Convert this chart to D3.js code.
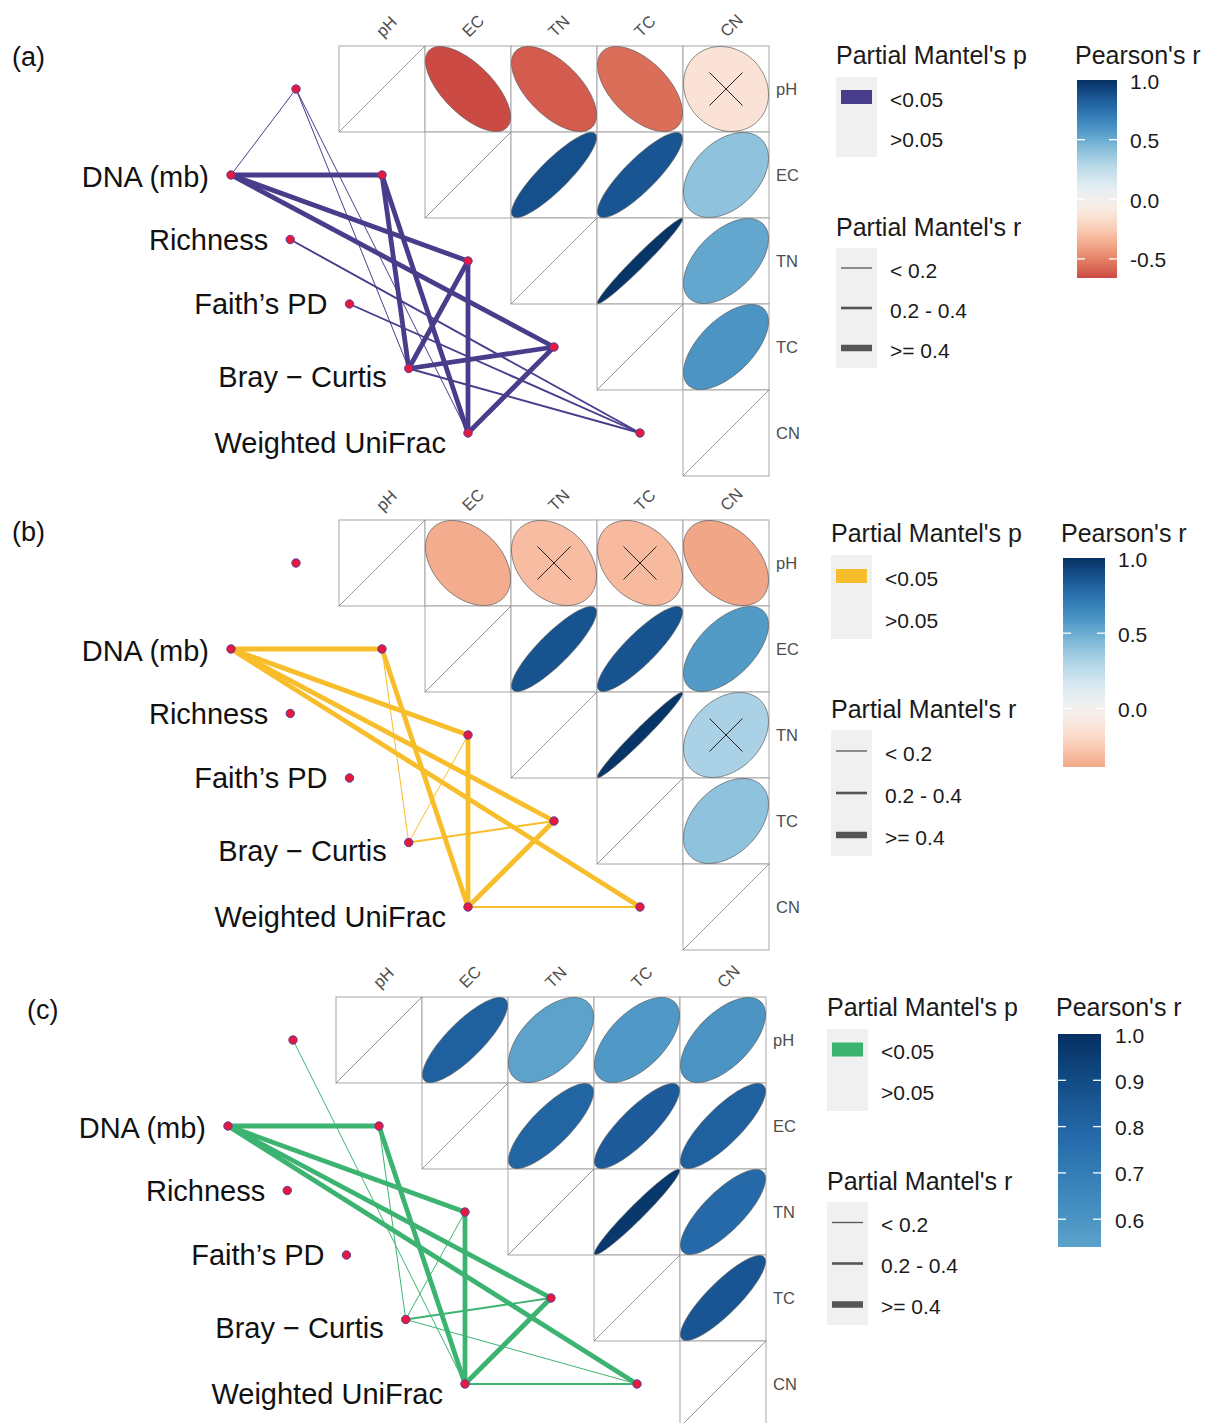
<!DOCTYPE html>
<html>
<head>
<meta charset="utf-8">
<script src="https://cdn.jsdelivr.net/npm/d3@7"></script>
<style>
  body { margin: 0; background: #fff; }
  svg { display: block; font-family: "Liberation Sans", Arial, sans-serif; }
</style>
</head>
<body>
<div class="container"></div>
<script>
// environment variables (grid) and community metrics (left nodes)
var envs = ["pH", "EC", "TN", "TC", "CN"];
var specs = ["DNA (mb)", "Richness", "Faith\u2019s PD", "Bray\u2212Curtis", "Weighted UniFrac"];
var specText = ["DNA (mb)", "Richness", "Faith\u2019s PD", "Bray \u2212 Curtis", "Weighted UniFrac"];
var panelTags = ["(a)", "(b)", "(c)"];

// Pearson's r, upper triangle row by row:
// pH-EC, pH-TN, pH-TC, pH-CN, EC-TN, EC-TC, EC-CN, TN-TC, TN-CN, TC-CN
var pearsonA = [-0.66, -0.61, -0.56, -0.13, 0.88, 0.86, 0.40, 0.98, 0.52, 0.60];
var pearsonB = [-0.37, -0.31, -0.32, -0.39, 0.87, 0.87, 0.57, 0.98, 0.32, 0.40];
var pearsonC = [0.82, 0.54, 0.58, 0.60, 0.80, 0.84, 0.82, 0.97, 0.78, 0.86];
// 1 = not significant (crossed out)
var nsA = [0, 0, 0, 1, 0, 0, 0, 0, 0, 0];
var nsB = [0, 1, 1, 0, 0, 0, 0, 0, 1, 0];
var nsC = [0, 0, 0, 0, 0, 0, 0, 0, 0, 0];

// partial Mantel links with p < 0.05: [metric, env, Mantel's r]
var mantelA = [
  ["DNA (mb)", "pH", 0.12], ["DNA (mb)", "EC", 0.52], ["DNA (mb)", "TN", 0.50], ["DNA (mb)", "TC", 0.48],
  ["Richness", "CN", 0.30], ["Faith\u2019s PD", "CN", 0.30],
  ["Bray\u2212Curtis", "pH", 0.10], ["Bray\u2212Curtis", "EC", 0.48], ["Bray\u2212Curtis", "TN", 0.44],
  ["Bray\u2212Curtis", "TC", 0.50], ["Bray\u2212Curtis", "CN", 0.26],
  ["Weighted UniFrac", "pH", 0.10], ["Weighted UniFrac", "EC", 0.47], ["Weighted UniFrac", "TN", 0.50],
  ["Weighted UniFrac", "TC", 0.48]
];
var mantelB = [
  ["DNA (mb)", "EC", 0.52], ["DNA (mb)", "TN", 0.50], ["DNA (mb)", "TC", 0.48], ["DNA (mb)", "CN", 0.45],
  ["Bray\u2212Curtis", "EC", 0.12], ["Bray\u2212Curtis", "TN", 0.12], ["Bray\u2212Curtis", "TC", 0.22],
  ["Weighted UniFrac", "EC", 0.48], ["Weighted UniFrac", "TN", 0.50], ["Weighted UniFrac", "TC", 0.46],
  ["Weighted UniFrac", "CN", 0.30]
];
var mantelC = [
  ["Weighted UniFrac", "pH", 0.10],
  ["DNA (mb)", "EC", 0.52], ["DNA (mb)", "TN", 0.50], ["DNA (mb)", "TC", 0.48], ["DNA (mb)", "CN", 0.46],
  ["Bray\u2212Curtis", "EC", 0.12], ["Bray\u2212Curtis", "TN", 0.12], ["Bray\u2212Curtis", "TC", 0.26],
  ["Bray\u2212Curtis", "CN", 0.10],
  ["Weighted UniFrac", "EC", 0.48], ["Weighted UniFrac", "TN", 0.50], ["Weighted UniFrac", "TC", 0.46],
  ["Weighted UniFrac", "CN", 0.30]
];

// colour bar ticks
var ticksA = [-0.5, 0, 0.5, 1.0];
var ticksB = [0, 0.5, 1.0];
var ticksC = [0.6, 0.7, 0.8, 0.9, 1.0];

// legend text
var pLabels = ["<0.05", ">0.05"];
var rLabels = ["< 0.2", "0.2 - 0.4", ">= 0.4"];
var rBreaks = [0.2, 0.4];
var linkColors = ["#483d8b", "#f8bd2a", "#3cb371"];

var width = 1215;
var height = 1423;
var cell = 86;
var specLabelDy = [2, 0, 0, 8, 10];

var lineWidth = d3.scaleThreshold().domain(rBreaks).range([1, 1.9, 4.8]);
var legendWidth = d3.scaleThreshold().domain(rBreaks).range([1.3, 2.6, 6.5]);
var rbColor = d3.scaleLinear().domain([-1, 1]).range([0, 1]);

var panels = [
  {tag: panelTags[0], tagX: 12, tagY: 57, x0: 339, y0: 46, pearson: pearsonA, ns: nsA, mantel: mantelA,
   color: linkColors[0], ticks: ticksA, legX: 836, legY: 55, keyH: 40, barX: 1077, barW: 40, barY: 80, barH: 198, barLabX: 1130},
  {tag: panelTags[1], tagX: 12, tagY: 532, x0: 339, y0: 520, pearson: pearsonB, ns: nsB, mantel: mantelB,
   color: linkColors[1], ticks: ticksB, legX: 831, legY: 533, keyH: 42, barX: 1063, barW: 42, barY: 558, barH: 209, barLabX: 1118},
  {tag: panelTags[2], tagX: 27, tagY: 1010, x0: 336, y0: 997, pearson: pearsonC, ns: nsC, mantel: mantelC,
   color: linkColors[2], ticks: ticksC, legX: 827, legY: 1007, keyH: 41, barX: 1058, barW: 43, barY: 1034, barH: 213, barLabX: 1115}
];

var svg = d3.select(".container")
  .append("svg")
  .attr("width", width).attr("height", height);
var defs = svg.append("defs");

///////////////////////////////////////////////////////////////////////////////////
// functions
function ellipse_path(r, cx, cy, rad){
  var d = Math.acos(r);
  var pts = d3.range(0, 121).map(function(k){
    var t = -Math.PI + 2 * Math.PI * k / 120;
    return [cx + rad * Math.cos(t + d / 2), cy - rad * Math.cos(t - d / 2)];
  });
  return d3.line()(pts) + "Z";
}

function upper_pairs(pearson, ns){
  var out = [];
  var k = 0;
  for (var i = 0; i < envs.length; i++){
    for (var j = i + 1; j < envs.length; j++){
      out.push({row: envs[i], col: envs[j], r: pearson[k], ns: ns[k]});
      k++;
    }
  }
  return out;
}

function draw_panel(p, idx){
  var g = svg.append("g").attr("class", "panel");
  var x = d3.scaleBand().domain(envs).range([p.x0, p.x0 + cell * envs.length]);
  var y = d3.scaleBand().domain(envs).range([p.y0, p.y0 + cell * envs.length]);
  var specPos = d3.scalePoint().domain(specs);
  var sx = specPos.copy().range([p.x0 - 108, p.x0 + 1.5 * cell]);
  var sy = specPos.copy().range([p.y0 + 1.5 * cell, p.y0 + 4.5 * cell]);
  var ax = function(e){ return x(e) - cell / 2; };
  var ay = function(e){ return y(e) + cell / 2; };

  // panel tag
  g.append("text").attr("x", p.tagX).attr("y", p.tagY)
    .attr("dominant-baseline", "central")
    .style("font-size", "27px").style("fill", "#111").text(p.tag);

  //-----------------------------------------
  // 1. GRID
  var cells = [];
  envs.forEach(function(r, i){
    envs.forEach(function(c, j){ if (j >= i) cells.push({row: r, col: c, diag: i === j}); });
  });
  g.selectAll(".cellbox").data(cells).enter().append("rect")
    .attr("class", "cellbox")
    .attr("x", function(d){ return x(d.col); })
    .attr("y", function(d){ return y(d.row); })
    .attr("width", cell).attr("height", cell)
    .attr("fill", "#fff").attr("stroke", "#a6a6a6").attr("stroke-width", 1);
  g.selectAll(".diagline").data(cells.filter(function(d){ return d.diag; })).enter().append("line")
    .attr("x1", function(d){ return x(d.col); })
    .attr("y1", function(d){ return y(d.row) + cell; })
    .attr("x2", function(d){ return x(d.col) + cell; })
    .attr("y2", function(d){ return y(d.row); })
    .attr("stroke", "#7a7a7a").attr("stroke-width", 0.8);

  var pairs = upper_pairs(p.pearson, p.ns);
  g.selectAll(".ell").data(pairs).enter().append("path")
    .attr("class", "ell")
    .attr("d", function(d){ return ellipse_path(d.r, x(d.col) + cell / 2, y(d.row) + cell / 2, cell / 2 - 0.5); })
    .attr("fill", function(d){ return d3.interpolateRdBu(rbColor(d.r)); })
    .attr("stroke", "#5a5a5a").attr("stroke-width", 0.7);
  var crosses = pairs.filter(function(d){ return d.ns; });
  crosses.forEach(function(d){
    var cx = x(d.col) + cell / 2, cy = y(d.row) + cell / 2, h = 16.5;
    g.append("path")
      .attr("d", "M" + (cx - h) + "," + (cy - h) + "L" + (cx + h) + "," + (cy + h) +
                 "M" + (cx - h) + "," + (cy + h) + "L" + (cx + h) + "," + (cy - h))
      .attr("stroke", "#222").attr("stroke-width", 1);
  });

  // axis labels
  g.selectAll(".toplab").data(envs).enter().append("text")
    .attr("transform", function(d){ return "translate(" + (x(d) + cell / 2 + 1) + "," + (p.y0 - 8) + ") rotate(-45)"; })
    .style("font-size", "16.5px").style("fill", "#4d4d4d").text(function(d){ return d; });
  g.selectAll(".rightlab").data(envs).enter().append("text")
    .attr("x", p.x0 + cell * envs.length + 7)
    .attr("y", function(d){ return y(d) + cell / 2; })
    .attr("dominant-baseline", "central")
    .style("font-size", "16.5px").style("fill", "#4d4d4d").text(function(d){ return d; });

  //-----------------------------------------
  // 2. LINKS
  g.selectAll(".link").data(p.mantel).enter().append("line")
    .attr("class", "link")
    .attr("x1", function(d){ return sx(d[0]); })
    .attr("y1", function(d){ return sy(d[0]); })
    .attr("x2", function(d){ return ax(d[1]); })
    .attr("y2", function(d){ return ay(d[1]); })
    .attr("stroke", p.color)
    .attr("stroke-width", function(d){ return lineWidth(d[2]); });

  var nodes = specs.map(function(s){ return [sx(s), sy(s)]; })
    .concat(envs.map(function(e){ return [ax(e), ay(e)]; }));
  g.selectAll(".node").data(nodes).enter().append("circle")
    .attr("cx", function(d){ return d[0]; }).attr("cy", function(d){ return d[1]; })
    .attr("r", 4.2).attr("fill", "#e8173c").attr("stroke", "#5a3fa0").attr("stroke-width", 1);

  g.selectAll(".speclab").data(specs).enter().append("text")
    .attr("x", function(d){ return sx(d) - 22; })
    .attr("y", function(d, i){ return sy(d) + specLabelDy[i]; })
    .attr("text-anchor", "end").attr("dominant-baseline", "central")
    .style("font-size", "29px").style("fill", "#111").text(function(d, i){ return specText[i]; });

  //-----------------------------------------
  // 3. LEGENDS
  var lg = g.append("g");
  lg.append("text").attr("x", p.legX).attr("y", p.legY).attr("dominant-baseline", "central")
    .style("font-size", "25px").style("fill", "#1a1a1a").text("Partial Mantel's p");
  var pTop = p.legY + 22;
  lg.append("rect").attr("x", p.legX).attr("y", pTop).attr("width", 41).attr("height", p.keyH * 2).attr("fill", "#f0f0f0");
  lg.append("rect").attr("x", p.legX + 5).attr("y", pTop + p.keyH / 2 - 7).attr("width", 31).attr("height", 14).attr("fill", p.color);
  lg.selectAll(".plab").data(pLabels).enter().append("text")
    .attr("x", p.legX + 54).attr("y", function(d, i){ return pTop + p.keyH * (i + 0.5) + 2; })
    .attr("dominant-baseline", "central")
    .style("font-size", "21px").style("fill", "#1a1a1a").text(function(d){ return d; });

  var rTitle = pTop + p.keyH * 2 + 70;
  var rTop = rTitle + 21;
  lg.append("text").attr("x", p.legX).attr("y", rTitle).attr("dominant-baseline", "central")
    .style("font-size", "25px").style("fill", "#1a1a1a").text("Partial Mantel's r");
  lg.append("rect").attr("x", p.legX).attr("y", rTop).attr("width", 41).attr("height", p.keyH * 3).attr("fill", "#f0f0f0");
  var rMid = [0.1, 0.3, 0.5];
  lg.selectAll(".rkey").data(rMid).enter().append("line")
    .attr("x1", p.legX + 5).attr("x2", p.legX + 36)
    .attr("y1", function(d, i){ return rTop + p.keyH * (i + 0.5); })
    .attr("y2", function(d, i){ return rTop + p.keyH * (i + 0.5); })
    .attr("stroke", "#555").attr("stroke-width", function(d){ return legendWidth(d); });
  lg.selectAll(".rlab").data(rLabels).enter().append("text")
    .attr("x", p.legX + 54).attr("y", function(d, i){ return rTop + p.keyH * (i + 0.5) + 2; })
    .attr("dominant-baseline", "central")
    .style("font-size", "21px").style("fill", "#1a1a1a").text(function(d){ return d; });

  // colour bar
  var rmin = d3.min(p.pearson);
  var by = d3.scaleLinear().domain([rmin, 1]).range([p.barY + p.barH, p.barY]);
  var gid = "grad" + idx;
  var grad = defs.append("linearGradient").attr("id", gid)
    .attr("x1", 0).attr("y1", 1).attr("x2", 0).attr("y2", 0);
  d3.range(0, 21).forEach(function(k){
    var v = rmin + (1 - rmin) * k / 20;
    grad.append("stop").attr("offset", (k / 20 * 100) + "%").attr("stop-color", d3.interpolateRdBu(rbColor(v)));
  });
  lg.append("text").attr("x", p.barX - 2).attr("y", p.legY).attr("dominant-baseline", "central")
    .style("font-size", "25px").style("fill", "#1a1a1a").text("Pearson's r");
  lg.append("rect").attr("x", p.barX).attr("y", p.barY).attr("width", p.barW).attr("height", p.barH)
    .attr("fill", "url(#" + gid + ")");
  p.ticks.forEach(function(t){
    if (t >= 1) return;
    [p.barX, p.barX + p.barW - 8].forEach(function(tx){
      lg.append("line").attr("x1", tx).attr("x2", tx + 8)
        .attr("y1", by(t)).attr("y2", by(t)).attr("stroke", "#fff").attr("stroke-width", 1.3);
    });
  });
  lg.selectAll(".barlab").data(p.ticks).enter().append("text")
    .attr("x", p.barLabX).attr("y", function(d){ return by(d) + 1; })
    .attr("dominant-baseline", "central")
    .style("font-size", "21px").style("fill", "#1a1a1a")
    .text(function(d){ return d.toFixed(1); });
}

///////////////////////////////////////////////////////////////////////////////////
// draw
panels.forEach(function(p, i){ draw_panel(p, i); });
</script>
</body>
</html>
